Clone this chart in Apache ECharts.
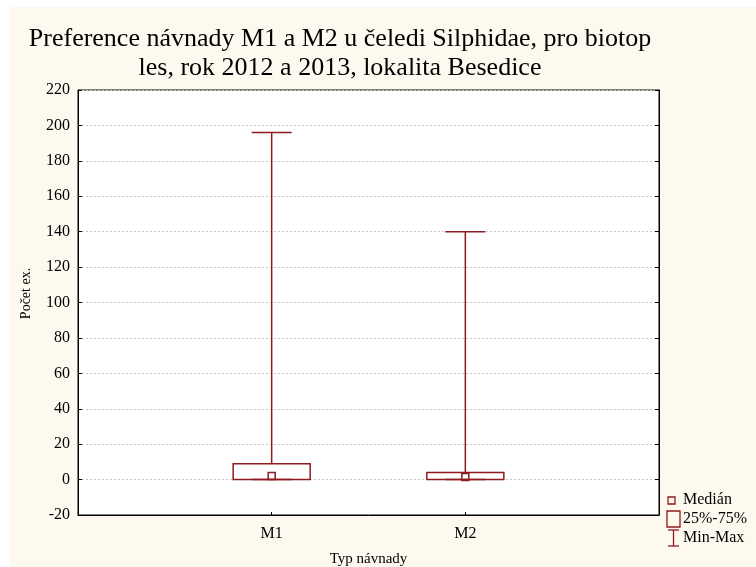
<!DOCTYPE html>
<html>
<head>
<meta charset="utf-8">
<script src="https://cdn.jsdelivr.net/npm/echarts@6/dist/echarts.min.js"></script>
<style>
html,body{margin:0;padding:0;background:#ffffff;}
#wrap{position:absolute;left:0;top:0;width:756px;height:567px;background:#ffffff;}
#chart{position:absolute;left:10px;top:7px;width:746px;height:560px;background:#FEF9EF;}
</style>
</head>
<body>
<div id="wrap"><div id="chart"></div></div>
<script>
// Data
var categories = ['M1', 'M2'];
var minVals = [0, 0];
var q1Vals = [0, 0];
var medianVals = [2, 1.5];
var q3Vals = [9, 4];
var maxVals = [196, 140];
var yTicks = [-20, 0, 20, 40, 60, 80, 100, 120, 140, 160, 180, 200, 220];

var col = '#8E1B1E';
var font = '"Liberation Serif", "Times New Roman", serif';

var rows = categories.map(function (c, i) {
  return [i + 1, minVals[i], q1Vals[i], medianVals[i], q3Vals[i], maxVals[i]];
});

var chart = echarts.init(document.getElementById('chart'));
// chart container offset: (10,7)
var OX = 10, OY = 7;
chart.setOption({
  animation: false,
  backgroundColor: '#FEF9EF',
  grid: {
    left: 78 - OX, top: 90 - OY, right: 756 - 659, bottom: 567 - 515,
    outerBoundsMode: 'none', containLabel: false,
    show: true, backgroundColor: '#ffffff', borderColor: '#000', borderWidth: 1
  },
  graphic: [
    {
      type: 'text', x: 340 - OX, y: 25 - OY,
      style: {
        text: 'Preference návnady M1 a M2 u čeledi Silphidae, pro biotop\nles, rok 2012 a 2013, lokalita Besedice',
        font: '26px ' + font, fill: '#000', textAlign: 'center', lineHeight: 29
      }
    },
    // legend
    { type: 'rect', shape: { x: 668 - OX, y: 497 - OY, width: 7, height: 7 },
      style: { fill: 'none', stroke: col, lineWidth: 1.3 } },
    { type: 'text', x: 683 - OX, y: 500 - OY,
      style: { text: 'Medián', font: '16px ' + font, fill: '#000', textVerticalAlign: 'middle' } },
    { type: 'rect', shape: { x: 667 - OX, y: 511 - OY, width: 13, height: 16 },
      style: { fill: 'none', stroke: col, lineWidth: 1.3 } },
    { type: 'text', x: 683 - OX, y: 519 - OY,
      style: { text: '25%-75%', font: '16px ' + font, fill: '#000', textVerticalAlign: 'middle' } },
    { type: 'polyline', shape: { points: [[668 - OX, 530 - OY], [679 - OX, 530 - OY]] },
      style: { stroke: col, lineWidth: 1.3 } },
    { type: 'polyline', shape: { points: [[673.5 - OX, 530 - OY], [673.5 - OX, 546 - OY]] },
      style: { stroke: col, lineWidth: 1.3 } },
    { type: 'polyline', shape: { points: [[668 - OX, 546 - OY], [679 - OX, 546 - OY]] },
      style: { stroke: col, lineWidth: 1.3 } },
    { type: 'text', x: 683 - OX, y: 538 - OY,
      style: { text: 'Min-Max', font: '16px ' + font, fill: '#000', textVerticalAlign: 'middle' } }
  ],
  xAxis: [{
    type: 'value', min: 0, max: 3, interval: 1,
    name: 'Typ návnady', nameLocation: 'middle', nameGap: 37,
    nameTextStyle: { fontFamily: font, fontSize: 15, color: '#000' },
    axisLine: { show: true, onZero: false, lineStyle: { color: '#000', width: 1 } },
    axisTick: { show: true, inside: true, length: 3, lineStyle: { color: '#000' } },
    axisLabel: {
      fontFamily: font, fontSize: 16, color: '#000', margin: 11,
      formatter: function (v) { return categories[v - 1] || ''; }
    },
    splitLine: { show: false }
  }],
  yAxis: [{
    type: 'value', min: yTicks[0], max: yTicks[yTicks.length - 1], interval: 20,
    name: 'Počet ex.', nameLocation: 'middle', nameGap: 45,
    nameTextStyle: { fontFamily: font, fontSize: 14, color: '#000', padding: [0, 0, 0, 18] },
    axisLine: { show: true, lineStyle: { color: '#000', width: 1 } },
    axisTick: { show: true, inside: true, length: 4, lineStyle: { color: '#000' } },
    axisLabel: { fontFamily: font, fontSize: 16, color: '#000', margin: 8 },
    splitLine: { show: true, lineStyle: { color: '#c8c8c8', type: [2, 2], width: 1 } }
  }, {
    type: 'value', min: yTicks[0], max: yTicks[yTicks.length - 1], interval: 20, position: 'right',
    axisLine: { show: true, lineStyle: { color: '#000', width: 1 } },
    axisTick: { show: true, inside: true, length: 4, lineStyle: { color: '#000' } },
    axisLabel: { show: false }, splitLine: { show: false }
  }],
  series: [{
    type: 'custom',
    name: 'Min-Max',
    data: rows,
    encode: { x: 0, y: [1, 5] },
    z: 3,
    renderItem: function (params, api) {
      var x = api.value(0);
      var pMax = api.coord([x, api.value(5)]);
      var pQ3 = api.coord([x, api.value(4)]);
      var pMin = api.coord([x, api.value(1)]);
      var pQ1 = api.coord([x, api.value(2)]);
      var cw = 20;
      var st = { stroke: col, lineWidth: 1.5, fill: null };
      return {
        type: 'group',
        children: [
          { type: 'line', shape: { x1: pMax[0], y1: pMax[1], x2: pQ3[0], y2: pQ3[1] }, style: st },
          { type: 'line', shape: { x1: pMax[0] - cw, y1: pMax[1], x2: pMax[0] + cw, y2: pMax[1] }, style: st },
          { type: 'line', shape: { x1: pMin[0], y1: pMin[1], x2: pQ1[0], y2: pQ1[1] }, style: st },
          { type: 'line', shape: { x1: pMin[0] - cw, y1: pMin[1], x2: pMin[0] + cw, y2: pMin[1] }, style: st }
        ]
      };
    }
  }, {
    type: 'custom',
    name: '25%-75%',
    data: rows,
    encode: { x: 0, y: [2, 4] },
    z: 4,
    renderItem: function (params, api) {
      var x = api.value(0);
      var pQ3 = api.coord([x, api.value(4)]);
      var pQ1 = api.coord([x, api.value(2)]);
      var bw = 77;
      return {
        type: 'rect',
        shape: { x: pQ3[0] - bw / 2, y: pQ3[1], width: bw, height: pQ1[1] - pQ3[1] },
        style: { stroke: col, lineWidth: 1.5, fill: null }
      };
    }
  }, {
    type: 'custom',
    name: 'Medián',
    data: rows,
    encode: { x: 0, y: 3 },
    z: 5,
    renderItem: function (params, api) {
      var x = api.value(0);
      var p = api.coord([x, api.value(3)]);
      var s = 7;
      return {
        type: 'rect',
        shape: { x: p[0] - s / 2, y: p[1] - s / 2, width: s, height: s },
        style: { stroke: col, lineWidth: 1.5, fill: null }
      };
    }
  }]
});
</script>
</body>
</html>
